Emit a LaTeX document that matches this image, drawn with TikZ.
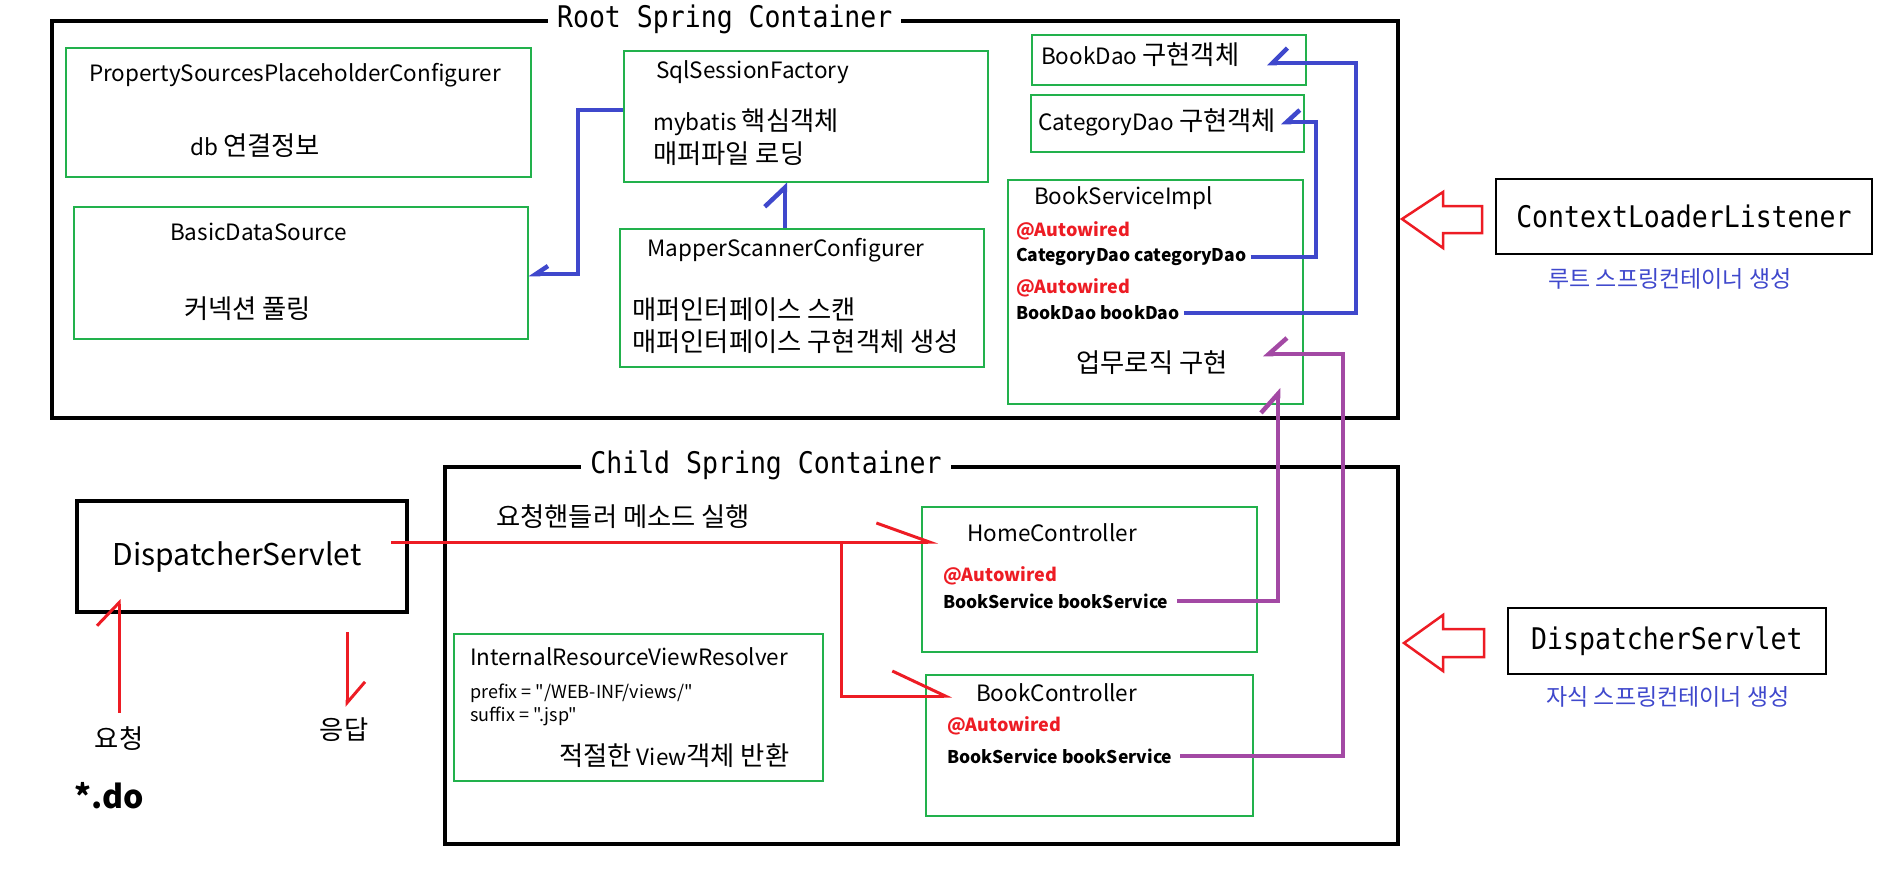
\documentclass[tikz,border=0pt]{standalone}
\usepackage{fontspec}
\setmainfont{Noto Sans CJK KR}
\newfontfamily\kofont[Scale=1.17]{Noto Sans CJK KR}
\newfontfamily\plainfont{Noto Sans CJK KR}
\newfontfamily\codefont[FakeStretch=0.89]{DejaVu Sans Mono}
\newcommand{\ko}[1]{{\kofont #1}}
\usepackage{color}
\definecolor{mygreen}{RGB}{34,177,76}
\definecolor{myblue}{RGB}{63,72,204}
\definecolor{myred}{RGB}{237,28,36}
\definecolor{mypurple}{RGB}{163,73,164}
\usepackage{tikz}
\usetikzlibrary{arrows.meta,positioning}
\tikzstyle{container}=[draw,line width=3.5pt,anchor=north west,inner sep=0pt]
\tikzstyle{beanbox}=[draw=mygreen,line width=1.5pt,anchor=north west,inner sep=0pt]
\tikzstyle{mainbox}=[draw,line width=1.8pt,anchor=north west,inner sep=0pt,font=\codefont\fontsize{29.8}{32}\selectfont]
\tikzstyle{boxtitle}=[fill=white,inner xsep=9pt,inner ysep=0pt,font=\codefont\fontsize{29.8}{32}\selectfont]
\tikzstyle{txt}=[anchor=west,inner sep=0pt,font=\fontsize{22.5}{26}\selectfont]
\tikzstyle{smalltxt}=[anchor=west,inner sep=0pt,font=\plainfont\fontsize{18}{21}\selectfont]
\tikzstyle{autotxt}=[anchor=west,inner sep=0pt,text=myred,font=\bfseries\fontsize{18}{21}\selectfont]
\tikzstyle{fieldtxt}=[anchor=west,inner sep=0pt,font=\bfseries\fontsize{17.5}{21}\selectfont]
\tikzstyle{gentxt}=[inner sep=0pt,text=myblue,font=\fontsize{23}{27}\selectfont]
\tikzstyle{blueline}=[myblue,line width=4.5pt]
\tikzstyle{redline}=[myred,line width=3pt]
\tikzstyle{purpleline}=[mypurple,line width=4.5pt]
\tikzstyle{hollow}=[myred,line width=2.5pt,fill=white,line join=miter]

\begin{document}
\begin{tikzpicture}[x=1pt,y=-1pt]
\useasboundingbox (0,0) rectangle (1898,868);
% root container
\draw (50, 19) node [container, minimum width=1346pt, minimum height=397pt] (root) {};
\draw (root.north) node [boxtitle] (roottitle) {Root Spring Container};
\draw (65, 47) node [beanbox, minimum width=465pt, minimum height=129pt] (pspc) {};
\draw (89, 75) node [txt] (pspctxt) {PropertySourcesPlaceholderConfigurer};
\draw (190, 146) node [txt] (dbinfo) {db \ko{연결정보}};
\draw (73, 206) node [beanbox, minimum width=454pt, minimum height=132pt] (bds) {};
\draw (170, 232) node [txt] (bdstxt) {BasicDataSource};
\draw (184, 309) node [txt] (pooling) {\ko{커넥션 풀링}};
\draw (623, 50) node [beanbox, minimum width=364pt, minimum height=131pt] (ssf) {};
\draw (656, 72) node [txt] (ssftxt) {SqlSessionFactory};
\draw (653, 122) node [txt] (ssfcore) {mybatis \ko{핵심객체}};
\draw (653, 154) node [txt] (ssfmap) {\ko{매퍼파일 로딩}};
\draw (619, 228) node [beanbox, minimum width=364pt, minimum height=138pt] (msc) {};
\draw (647, 250) node [txt] (msctxt) {MapperScannerConfigurer};
\draw (632, 310) node [txt] (mscscan) {\ko{매퍼인터페이스 스캔}};
\draw (632, 342) node [txt] (mscimpl) {\ko{매퍼인터페이스 구현객체 생성}};
\draw (1031, 34) node [beanbox, minimum width=274pt, minimum height=50pt] (bookdao) {};
\draw (1041, 55) node [txt] (bookdaotxt) {BookDao \ko{구현객체}};
\draw (1030, 94) node [beanbox, minimum width=273pt, minimum height=57pt] (catdao) {};
\draw (1038, 122) node [txt] (catdaotxt) {CategoryDao \ko{구현객체}};
\draw (1007, 179) node [beanbox, minimum width=295pt, minimum height=224pt] (bsi) {};
\draw (1034, 198) node [txt] (bsitxt) {BookServiceImpl};
\draw (1016, 231) node [autotxt] (bsiauto1) {@Autowired};
\draw (1016, 257) node [fieldtxt] (catfield) {CategoryDao categoryDao};
\draw (1016, 288) node [autotxt] (bsiauto2) {@Autowired};
\draw (1016, 313) node [fieldtxt] (bookfield) {BookDao bookDao};
\draw (1152, 363) node [txt, anchor=center] (bizlogic) {\ko{업무로직 구현}};
% child container
\draw (443, 465) node [container, minimum width=953pt, minimum height=377pt] (child) {};
\draw (766, 465) node [boxtitle] (childtitle) {Child Spring Container};
\draw (496, 517) node [txt] (reqhandler) {\ko{요청핸들러 메소드 실행}};
\draw (453, 633) node [beanbox, minimum width=369pt, minimum height=147pt] (irvr) {};
\draw (470, 657) node [txt] (irvrtxt) {InternalResourceViewResolver};
\draw (470, 693) node [smalltxt] (prefix) {prefix = "/WEB-INF/views/"};
\draw (470, 716) node [smalltxt] (suffix) {suffix = ".jsp"};
\draw (559, 756) node [txt] (viewret) {\ko{적절한} View\ko{객체 반환}};
\draw (921, 506) node [beanbox, minimum width=335pt, minimum height=145pt] (home) {};
\draw (967, 533) node [txt] (hometxt) {HomeController};
\draw (943, 576) node [autotxt] (homeauto) {@Autowired};
\draw (943, 601) node [fieldtxt] (homefield) {BookService bookService};
\draw (925, 674) node [beanbox, minimum width=327pt, minimum height=141pt] (bookctl) {};
\draw (976, 693) node [txt] (bookctltxt) {BookController};
\draw (947, 726) node [autotxt] (bookctlauto) {@Autowired};
\draw (947, 756) node [fieldtxt] (bookctlfield) {BookService bookService};
% outside
\draw (75, 499) node [container, line width=4pt, minimum width=330pt, minimum height=111pt, font=\fontsize{30}{34}\selectfont] (dsleft) {DispatcherServlet\hspace*{10pt}};
\draw (119, 739) node [txt, anchor=center] (reqtxt) {\ko{요청}};
\draw (344, 730) node [txt, anchor=center] (resptxt) {\ko{응답}};
\draw (74, 796) node [txt, font=\bfseries\fontsize{32}{36}\selectfont] (dotxt) {*.do};
\draw (1495, 178) node [mainbox, minimum width=376pt, minimum height=75pt] (cll) {ContextLoaderListener};
\draw (1670, 279) node [gentxt] (rootgen) {루트 스프링컨테이너 생성};
\draw (1507, 607) node [mainbox, minimum width=318pt, minimum height=66pt] (dsright) {DispatcherServlet};
\draw (1668, 697) node [gentxt] (childgen) {자식 스프링컨테이너 생성};
% bend points
\coordinate (ssfbend) at (578, 110);
\coordinate (catbend) at (1316, 0);
\coordinate (daobend) at (1356, 0);
\coordinate (cattip) at (1281, 122);
\coordinate (daotip) at (1267, 63);
\coordinate (homebend) at (1278, 388);
\coordinate (ctlbend) at (1343, 354);
\coordinate (dsout) at (391, 542);
\coordinate (branch) at (841, 542);
\coordinate (hometip) at (938, 542);
\coordinate (ctltip) at (952, 696);
% blue wiring
\draw[blueline, -{Straight Barb[harpoon,swap,length=12pt,width=16pt]}] (ssf.west |- ssfbend) -- (ssfbend) |- ([yshift=-68pt]bds.north east);
\draw[blueline, -{Straight Barb[harpoon,length=19pt,width=40pt]}] ([xshift=-17pt]msc.north) -- ([xshift=-17pt]msc.north |- ssf.south);
\draw[blueline, -{Straight Barb[harpoon,swap,length=13pt,width=24pt]}] ([xshift=4pt]catfield.east) -- (catfield.east -| catbend) |- (cattip);
\draw[blueline, -{Straight Barb[harpoon,swap,length=15pt,width=30pt]}] ([xshift=4pt]bookfield.east) -- (bookfield.east -| daobend) |- (daotip);
% purple wiring
\draw[purpleline, -{Straight Barb[harpoon,length=19pt,width=34pt]}] ([xshift=9pt]homefield.east) -| (homebend);
\draw[purpleline, -{Straight Barb[harpoon,swap,length=18pt,width=32pt]}] ([xshift=8pt]bookctlfield.east) -| (ctlbend) -- (ctlbend -| 1263,0);
% red wiring
\draw[redline, -{Straight Barb[harpoon,length=53pt,width=38pt]}] (dsout) -- (hometip);
\draw[redline, -{Straight Barb[harpoon,length=53pt,width=50pt]}] (branch) |- (ctltip);
\draw[redline, -{Straight Barb[harpoon,length=23pt,width=44pt]}] ([yshift=14pt]reqtxt.north) -- ([yshift=15pt]reqtxt.north |- dsleft.south);
\draw[redline, -{Straight Barb[harpoon,length=21pt,width=36pt]}] ([xshift=3pt,yshift=-18pt]dsleft.south east -| resptxt.north) -- ([xshift=3pt,yshift=11pt]resptxt.north);
% hollow arrows
\draw[hollow] (1482, 206) -- (1443, 206) -- (1443, 192) -- (1402, 219) -- (1443, 248) -- (1443, 233) -- (1482, 233) -- cycle;
\draw[hollow] (1484, 629) -- (1443, 629) -- (1443, 615) -- (1404, 643) -- (1443, 671) -- (1443, 657) -- (1484, 657) -- cycle;
\end{tikzpicture}
\end{document}
